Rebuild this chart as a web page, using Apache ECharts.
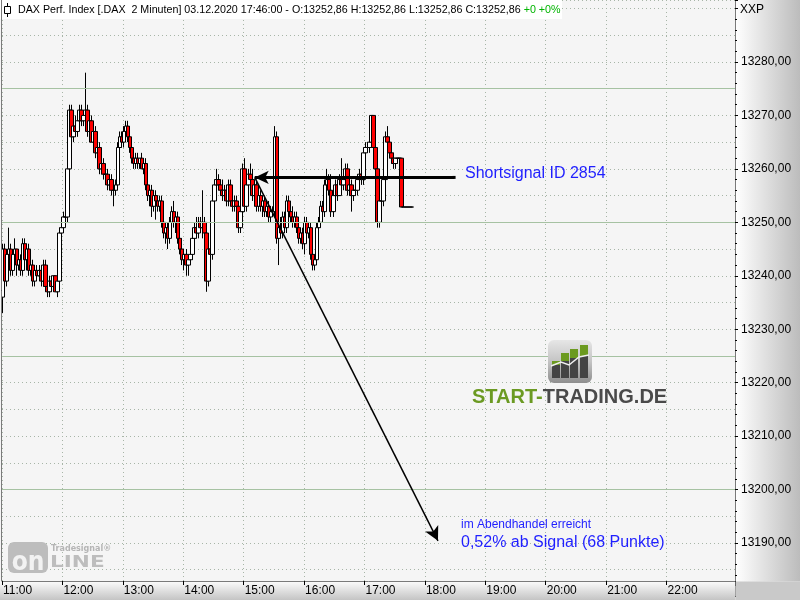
<!DOCTYPE html>
<html><head><meta charset="utf-8">
<script src="https://cdn.jsdelivr.net/npm/echarts@6/dist/echarts.min.js"></script>
<style>html,body{margin:0;padding:0;background:#f5f5f5}#c{width:800px;height:600px}</style>
</head><body><div id="c"></div>
<script>
// ---- data: 2-minute candles from 11:00 to 17:46 ----
const opens = [
13236,13245,13239,13244,13245,13241,13244,13245,13242,13243,
13241,13246,13243,13245,13241,13242,13239,13241,13240,13241,
13239,13242,13238,13237,13239,13238,13240,13237,13239,13248,
13249,13251,13251,13260,13271,13266,13268,13267,13269,13271,
13269,13270,13271,13267,13269,13265,13267,13263,13264,13260,
13261,13259,13259,13257,13258,13256,13256,13257,13264,13266,
13265,13267,13268,13266,13264,13262,13261,13262,13261,13262,
13260,13261,13257,13255,13256,13253,13255,13254,13253,13254,
13250,13248,13249,13247,13250,13252,13250,13251,13247,13245,
13243,13244,13242,13243,13244,13247,13249,13248,13250,13249,
13250,13248,13239,13245,13244,13254,13257,13258,13257,13256,
13255,13256,13254,13257,13254,13253,13254,13253,13249,13252,
13260,13253,13257,13259,13258,13255,13257,13253,13255,13253,
13254,13252,13253,13251,13252,13252,13266,13247,13249,13248,
13251,13249,13254,13252,13251,13250,13251,13249,13247,13248,
13246,13250,13248,13249,13244,13242,13243,13249,13250,13253,
13252,13257,13258,13256,13252,13255,13257,13255,13258,13257,
13258,13260,13256,13257,13255,13256,13256,13258,13259,13258,
13263,13264,13264,13265,13270,13264,13260,13250,13254,13254,
13258,13266,13265,13263,13262,13261,13262,13262,13262,13252.86,
13252.86,13252.86,13252.86,13252.86];
const closes = [
13245,13239,13244,13245,13241,13244,13245,13242,13243,13241,
13246,13243,13245,13241,13242,13239,13241,13240,13241,13239,
13242,13238,13237,13239,13238,13240,13237,13239,13248,13249,
13251,13251,13260,13271,13266,13268,13267,13269,13271,13269,
13270,13271,13267,13269,13265,13267,13263,13264,13260,13261,
13259,13259,13257,13258,13256,13256,13257,13264,13266,13265,
13267,13268,13266,13264,13262,13261,13262,13261,13262,13260,
13261,13257,13255,13256,13253,13255,13254,13253,13254,13250,
13248,13249,13247,13250,13252,13250,13251,13247,13245,13243,
13244,13242,13243,13244,13247,13249,13248,13250,13249,13250,
13248,13239,13245,13244,13254,13257,13258,13257,13256,13255,
13256,13254,13257,13254,13253,13254,13253,13249,13252,13260,
13253,13257,13259,13258,13255,13257,13253,13255,13253,13254,
13252,13253,13251,13252,13252,13266,13247,13249,13248,13251,
13249,13254,13252,13251,13250,13251,13249,13247,13248,13246,
13250,13248,13249,13244,13242,13243,13249,13250,13253,13252,
13257,13258,13256,13252,13255,13257,13255,13258,13257,13258,
13260,13256,13257,13255,13256,13256,13258,13259,13258,13263,
13264,13264,13265,13270,13264,13260,13250,13254,13254,13258,
13266,13265,13263,13262,13261,13262,13262,13262,13252.86,13252.86,
13252.86,13252.86,13252.86,13252.86];
const highs = [
13246,13246,13245,13249,13246,13245,13247,13245,13244,13244,
13247,13247,13246,13246,13243,13243,13242,13242,13242,13241,
13243,13243,13239,13240,13240,13240,13240,13241,13249,13250,
13252,13252,13261,13272,13272,13269,13270,13270,13272,13272,
13271,13278,13272,13270,13270,13268,13268,13266,13265,13262,
13262,13260,13260,13259,13259,13257,13258,13265,13267,13267,
13268,13269,13269,13268,13265,13263,13263,13263,13262,13263,
13262,13262,13258,13257,13257,13256,13256,13255,13255,13255,
13251,13250,13250,13251,13253,13254,13252,13252,13249,13247,
13245,13245,13244,13245,13248,13250,13251,13251,13251,13256,
13251,13249,13246,13246,13255,13258,13260,13259,13258,13258,
13257,13257,13258,13258,13255,13255,13255,13254,13253,13261,
13262,13258,13260,13261,13260,13258,13258,13256,13256,13255,
13255,13254,13254,13253,13253,13268,13267,13250,13251,13252,
13252,13255,13255,13253,13253,13252,13252,13250,13249,13249,
13251,13251,13250,13250,13246,13244,13250,13251,13254,13254,
13258,13260,13259,13259,13256,13258,13258,13259,13262,13259,
13261,13261,13258,13258,13257,13257,13259,13260,13260,13264,
13265,13265,13265,13270,13270,13264,13261,13255,13255,13259,
13267,13268,13266,13264,13263,13262,13262,13262,13262,13252.86,
13252.86,13252.86,13252.86,13252.86];
const lows = [
13233,13238,13238,13242,13240,13240,13243,13240,13241,13240,
13240,13242,13241,13240,13240,13238,13238,13239,13239,13238,
13238,13237,13236,13236,13237,13237,13237,13236,13238,13246,
13248,13250,13250,13259,13265,13265,13266,13266,13268,13268,
13268,13269,13266,13266,13265,13264,13262,13262,13259,13259,
13258,13257,13256,13256,13255,13253,13255,13256,13263,13264,
13264,13266,13265,13263,13261,13260,13260,13260,13260,13260,
13259,13256,13254,13253,13251,13252,13250.5,13252,13252,13249,
13247,13246,13245,13246,13249,13249,13248,13246,13244,13242,
13241,13240,13240,13242,13243,13245,13247,13247,13248,13247,
13246,13237,13238,13243,13243,13253,13256,13256,13255,13254,
13254,13253,13253,13253,13252,13252,13252,13248,13248,13251,
13252,13252,13255,13257,13254,13253,13252,13252,13252,13251,
13251,13251,13250,13250,13251,13251,13246,13242,13247,13247,
13248,13248,13251,13250,13249,13249,13248,13246,13246,13245,
13244,13247,13247,13243,13241,13241,13242,13248,13249,13251,
13251,13256,13255,13251,13251,13254,13254,13255,13256,13256,
13256,13255,13255,13252,13254,13255,13255,13257,13257,13257,
13262,13263,13263,13264,13263,13258,13249,13249,13253,13253,
13257,13264,13262,13261,13260,13260,13261,13261,13252.86,13252.86,
13252.86,13252.86,13252.86,13252.86];

const levelLines = [13275, 13250, 13225, 13200];        // user drawn horizontals
const signal = {start: '15:10', end: '18:28', price: 13258.4};
const target = {time: '18:12', price: 13190.4};
const yMin = 13180, yMax = 13291.6;

// time categories, 2 minute steps from 11:00
const cats = [];
for (let t = 660; t < 660 + 364 * 2; t += 2) {
  cats.push(Math.floor(t / 60) + ':' + String(t % 60).padStart(2, '0'));
}
const isHour = (i, v) => v.endsWith(':00') && parseInt(v, 10) < 23;
const ohlc = opens.map((o, i) => [o, closes[i], lows[i], highs[i]]);
const ci = (s) => cats.indexOf(s);

const FONT = 'Liberation Sans, Arial, sans-serif';
const chart = echarts.init(document.getElementById('c'));
const G = echarts.graphic;
const dot = {color: '#a7b5a7', type: [1, 3], width: 1};

chart.setOption({
  animation: false,
  backgroundColor: '#f5f5f5',
  grid: [
    {left: 2, right: 65, top: 0, bottom: 3.6},
    {left: 2, right: 65, top: 0, bottom: 19}
  ],
  xAxis: [
    {gridIndex: 0, type: 'category', data: cats, boundaryGap: true, show: false},
    {gridIndex: 1, type: 'category', data: cats, position: 'top', boundaryGap: true,
     axisLine: {show: false}, axisTick: {show: false}, axisLabel: {show: false},
     splitLine: {show: true, interval: isHour, lineStyle: dot}},
    {gridIndex: 1, type: 'category', data: cats, position: 'bottom', boundaryGap: true, z: 200,
     axisLine: {show: true, lineStyle: {color: '#7a7a7a'}},
     axisTick: {show: true, interval: isHour, length: 4, lineStyle: {color: '#000'}},
     axisLabel: {interval: isHour, align: 'left', color: '#000', fontSize: 12, fontFamily: FONT, margin: 4},
     splitLine: {show: false}}
  ],
  yAxis: [
    {gridIndex: 0, type: 'value', min: yMin, max: yMax, interval: 5, position: 'left',
     axisLine: {show: false}, axisTick: {show: false}, axisLabel: {show: false},
     splitLine: {show: true, lineStyle: dot}},
    {gridIndex: 0, type: 'value', min: yMin, max: yMax, interval: 10, position: 'right', z: 200,
     axisLine: {show: true, lineStyle: {color: '#7a7a7a'}},
     axisTick: {show: true, length: 3, lineStyle: {color: '#000'}},
     minorTick: {show: true, splitNumber: 5, length: 2, lineStyle: {color: '#000'}},
     axisLabel: {formatter: v => (v % 10 === 0 && v < 13290) ? v.toFixed(2).replace('.', ',') : '',
                 color: '#000', fontSize: 12, fontFamily: FONT, margin: 6, showMinLabel: false, showMaxLabel: false},
     splitLine: {show: false}},
    {gridIndex: 1, type: 'value', show: false}
  ],
  series: [{
    type: 'candlestick', xAxisIndex: 0, yAxisIndex: 0, data: ohlc, barWidth: 4,
    itemStyle: {color: '#ffffff', color0: '#ff0000', borderColor: '#000000', borderColor0: '#000000', borderWidth: 1},
    markLine: {
      silent: true, animation: false, label: {show: false}, symbol: 'none',
      data: levelLines.map(v => ({yAxis: v, symbol: 'none', lineStyle: {color: '#a6c2a2', type: 'solid', width: 1}})).concat([
        [{coord: [ci(signal.start), signal.price], symbol: 'arrow', symbolSize: [10, 14], itemStyle: {color: '#000'},
          lineStyle: {color: '#000', width: 3, type: 'solid'}},
         {coord: [ci(signal.end), signal.price], symbol: 'rect', symbolSize: 3, itemStyle: {color: '#ffffcc'}}],
        [{coord: [ci(signal.start), signal.price], symbol: 'none',
          lineStyle: {color: '#000', width: 1.5, type: 'solid'}},
         {coord: [ci(target.time), target.price], symbol: 'arrow', symbolSize: [11, 14], itemStyle: {color: '#000'}}]
      ])
    }
  }],
  graphic: [
    // title bar
    {type: 'rect', z: 100, shape: {x: 0, y: 0, width: 562, height: 19}, style: {fill: '#ffffff'}},
    {type: 'line', z: 101, shape: {x1: 7.5, y1: 3, x2: 7.5, y2: 17}, style: {stroke: '#000', lineWidth: 1}},
    {type: 'rect', z: 102, shape: {x: 4.5, y: 6.5, width: 6, height: 7}, style: {fill: '#fff', stroke: '#000', lineWidth: 1}},
    {type: 'text', z: 101, x: 18, y: 10, style: {
      text: '{a|DAX Perf. Index [.DAX  2 Minuten] 03.12.2020 17:46:00 - O:13252,86 H:13252,86 L:13252,86 C:13252,86 }{g|+0 +0%}',
      verticalAlign: 'middle', font: '10.7px ' + FONT,
      rich: {a: {fill: '#000', fontSize: 10.7, fontFamily: FONT}, g: {fill: '#00b400', fontSize: 10.7, fontFamily: FONT}}}},
    // right axis band
    {type: 'rect', z: 100, shape: {x: 735.5, y: 0, width: 64.5, height: 581.5},
     style: {fill: new G.LinearGradient(0, 0, 1, 0, [{offset: 0, color: '#ffffff'}, {offset: 1, color: '#bcbcbc'}])}},
    // bottom axis band
    {type: 'rect', z: 100, shape: {x: 0, y: 581.5, width: 735.5, height: 18.5},
     style: {fill: new G.LinearGradient(0, 0, 0, 1, [{offset: 0, color: '#fbfbfb'}, {offset: 1, color: '#c4c4c4'}])}},
    {type: 'rect', z: 300, shape: {x: 735.5, y: 581.5, width: 64.5, height: 18.5}, style: {fill: '#c9c9c9'}},
    {type: 'line', z: 150, shape: {x1: 1.5, y1: 0, x2: 1.5, y2: 581}, style: {stroke: '#7a7a7a', lineWidth: 1}},
    {type: 'text', z: 300, x: 740, y: 10, style: {text: 'XXP', fill: '#000', font: '12px ' + FONT, verticalAlign: 'middle'}},
    // annotations
    {type: 'text', z: 120, x: 465, y: 174, style: {text: 'Shortsignal ID 2854', fill: '#1f1fff', font: '16px ' + FONT, verticalAlign: 'middle'}},
    {type: 'text', z: 120, x: 461, y: 525, style: {text: 'im Abendhandel erreicht', fill: '#1f1fff', font: '12px ' + FONT, verticalAlign: 'middle'}},
    {type: 'text', z: 120, x: 461, y: 543, style: {text: '0,52% ab Signal (68 Punkte)', fill: '#1f1fff', font: '16px ' + FONT, verticalAlign: 'middle'}},
    // START-TRADING.DE logo
    {type: 'rect', z: 110, shape: {x: 548, y: 340, width: 44, height: 43, r: 6},
     style: {fill: new G.LinearGradient(0, 0, 0, 1, [{offset: 0, color: '#e6e6e6'}, {offset: 0.5, color: '#c4c4c4'}, {offset: 1, color: '#8e8e8e'}])}},
    {type: 'rect', z: 111, shape: {x: 552, y: 365, width: 8, height: 13}, style: {fill: '#444'}},
    {type: 'rect', z: 111, shape: {x: 561, y: 361, width: 8, height: 17}, style: {fill: '#444'}},
    {type: 'rect', z: 111, shape: {x: 570, y: 358, width: 8, height: 20}, style: {fill: '#444'}},
    {type: 'rect', z: 111, shape: {x: 580, y: 356, width: 8, height: 22}, style: {fill: '#444'}},
    {type: 'rect', z: 111, shape: {x: 552, y: 361, width: 8, height: 4}, style: {fill: '#6b9a1f'}},
    {type: 'rect', z: 111, shape: {x: 561, y: 353, width: 8, height: 8}, style: {fill: '#6b9a1f'}},
    {type: 'rect', z: 111, shape: {x: 570, y: 349, width: 8, height: 9}, style: {fill: '#6b9a1f'}},
    {type: 'rect', z: 111, shape: {x: 580, y: 345, width: 8, height: 11}, style: {fill: '#6b9a1f'}},
    {type: 'polyline', z: 112, shape: {points: [[551, 366], [561, 362], [569, 365], [579, 357], [589, 355]]},
     style: {stroke: '#f0f0f0', lineWidth: 1.5, fill: null}},
    {type: 'text', z: 110, x: 472, y: 397, style: {
      text: '{g|START-}{d|TRADING.DE}', verticalAlign: 'middle', font: 'bold 20px ' + FONT,
      rich: {g: {fill: '#6b9a22', font: 'bold 20px ' + FONT}, d: {fill: '#4a4a4a', font: 'bold 20px ' + FONT}}}},
    // Tradesignal online logo
    {type: 'rect', z: 5, shape: {x: 8, y: 542, width: 40, height: 31, r: 6}, style: {fill: '#bdbdbd'}},
    {type: 'text', z: 6, x: 28, y: 563.5, scaleX: 0.9, originX: 0, originY: 0,
     style: {text: 'on', fill: '#f2f2f2', font: 'bold 26px DejaVu Sans', align: 'center', verticalAlign: 'middle'}},
    {type: 'text', z: 6, x: 50, y: 563, scaleX: 1.35, originX: 0, originY: 0,
     style: {text: 'LINE', fill: '#bdbdbd', font: 'bold 16px DejaVu Sans', verticalAlign: 'middle'}},
    {type: 'text', z: 6, x: 51, y: 549, style: {text: 'Tradesignal®', fill: '#b5b5b5', font: 'bold 8px DejaVu Sans', verticalAlign: 'middle'}}
  ]
});
</script></body></html>
